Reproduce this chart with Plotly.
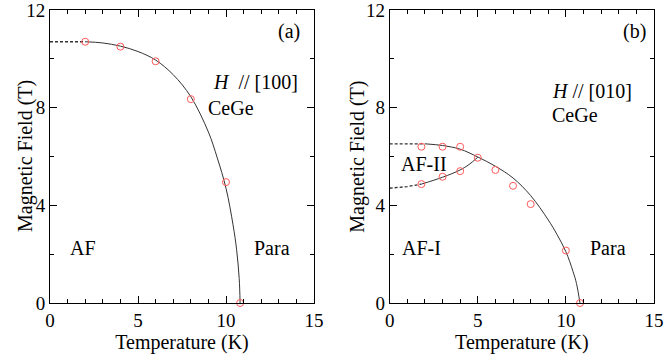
import plotly.graph_objects as go

# measured points, panel (a): H // [100]
a_temp = [2, 4, 6, 8, 10, 10.8]
a_field = [10.7, 10.5, 9.9, 8.35, 4.95, 0]

# guide line (a)
a_line_t = [2, 3, 4, 5, 6, 7, 8, 9, 9.5, 10, 10.4, 10.6, 10.75, 10.8]
a_line_h = [10.7, 10.65, 10.52, 10.3, 9.95, 9.35, 8.45, 7.0, 5.95, 4.7, 3.2, 2.2, 1.0, 0]
a_dash_t = [0, 2]
a_dash_h = [10.7, 10.7]

# measured points, panel (b): H // [010]
b_temp = [1.8, 3, 4, 5, 6, 7, 8, 10, 10.8, 1.8, 3, 4]
b_field = [6.4, 6.4, 6.4, 5.95, 5.45, 4.8, 4.05, 2.15, 0, 4.87, 5.17, 5.4]

# guide lines (b)
b_up_t = [2, 3, 4, 5, 6, 7, 8, 9, 9.5, 10, 10.4, 10.6, 10.8]
b_up_h = [6.52, 6.45, 6.3, 5.98, 5.6, 5.12, 4.4, 3.4, 2.8, 2.1, 1.3, 0.8, 0]
b_up_dash_t = [0, 2]
b_up_dash_h = [6.52, 6.52]
b_lo_t = [1.8, 3, 4, 4.5, 5]
b_lo_h = [4.87, 5.15, 5.45, 5.67, 5.97]
b_lo_dash_t = [0, 1, 1.8]
b_lo_dash_h = [4.7, 4.77, 4.87]

FONT = "Liberation Serif"
MARK = dict(symbol="circle-open", size=7, color="#ff5a5a", line=dict(width=1))
LINE = dict(color="#333333", width=1, shape="spline")
DASH = dict(color="#333333", width=1.3, dash="3px,2px")

fig = go.Figure()


def add_panel(xa, ya, pt_t, pt_h, lines, dashes):
    for t, h in lines:
        fig.add_trace(go.Scatter(x=t, y=h, mode="lines", line=LINE, xaxis=xa, yaxis=ya,
                                 showlegend=False, hoverinfo="skip"))
    for t, h in dashes:
        fig.add_trace(go.Scatter(x=t, y=h, mode="lines", line=DASH, xaxis=xa, yaxis=ya,
                                 showlegend=False, hoverinfo="skip"))
    fig.add_trace(go.Scatter(x=pt_t, y=pt_h, mode="markers", marker=MARK, xaxis=xa, yaxis=ya,
                             showlegend=False, cliponaxis=False))


add_panel("x", "y", a_temp, a_field, [(a_line_t, a_line_h)], [(a_dash_t, a_dash_h)])
add_panel("x2", "y2", b_temp, b_field,
          [(b_up_t, b_up_h), (b_lo_t, b_lo_h)],
          [(b_up_dash_t, b_up_dash_h), (b_lo_dash_t, b_lo_dash_h)])

xax = dict(range=[0, 15], dtick=5, ticks="inside", ticklen=7, tickwidth=1, tickcolor="black",
           minor=dict(dtick=1, ticks="inside", ticklen=4, tickcolor="black"),
           showline=True, linecolor="black", linewidth=1, mirror="allticks",
           showgrid=False, zeroline=False, automargin=False, ticklabeloverflow="allow",
           title=dict(text="Temperature (K)", font=dict(family=FONT, size=20), standoff=4),
           tickfont=dict(family=FONT, size=19))
yax = dict(range=[0, 12], dtick=4, ticks="inside", ticklen=7, tickwidth=1, tickcolor="black",
           minor=dict(dtick=2, ticks="inside", ticklen=4, tickcolor="black"),
           showline=True, linecolor="black", linewidth=1, mirror="allticks",
           showgrid=False, zeroline=False, automargin=False, ticklabeloverflow="allow",
           tickfont=dict(family=FONT, size=19))

fig.update_layout(
    width=664, height=364,
    margin=dict(l=50, r=10, t=10, b=61),
    paper_bgcolor="white", plot_bgcolor="white",
    font=dict(family=FONT, color="black", size=19),
    xaxis=dict(xax, domain=[0, 0.4371], anchor="y"),
    yaxis=dict(yax, domain=[0, 1], anchor="x"),
    xaxis2=dict(xax, domain=[0.5624, 1], anchor="y2"),
    yaxis2=dict(yax, domain=[0, 1], anchor="x2"),
)

# y-axis titles placed by hand
for xr, yr, shift in [("x domain", "y domain", -38), ("x2 domain", "y2 domain", -46)]:
    fig.add_annotation(xref=xr, yref=yr, x=0, y=0.5, xshift=shift, text="Magnetic Field (T)",
                       textangle=-90, showarrow=False, font=dict(family=FONT, size=20, color="black"))

labels = [
    ("x", "y", 13.6, 11.1, "(a)"),
    ("x", "y", 11.7, 9.05, "<i>H</i>  // [100]"),
    ("x", "y", 10.3, 8.0, "CeGe"),
    ("x", "y", 1.9, 2.25, "AF"),
    ("x", "y", 12.6, 2.25, "Para"),
    ("x2", "y2", 13.9, 11.1, "(b)"),
    ("x2", "y2", 11.5, 8.7, "<i>H</i> // [010]"),
    ("x2", "y2", 10.5, 7.7, "CeGe"),
    ("x2", "y2", 1.95, 5.7, "AF-II"),
    ("x2", "y2", 1.8, 2.25, "AF-I"),
    ("x2", "y2", 12.4, 2.25, "Para"),
]
for xr, yr, x, y, txt in labels:
    fig.add_annotation(xref=xr, yref=yr, x=x, y=y, text=txt, showarrow=False,
                       font=dict(family=FONT, size=20, color="black"))

fig.write_html("out.html", config={"displayModeBar": False},
               post_script="document.body.style.margin='0';")
